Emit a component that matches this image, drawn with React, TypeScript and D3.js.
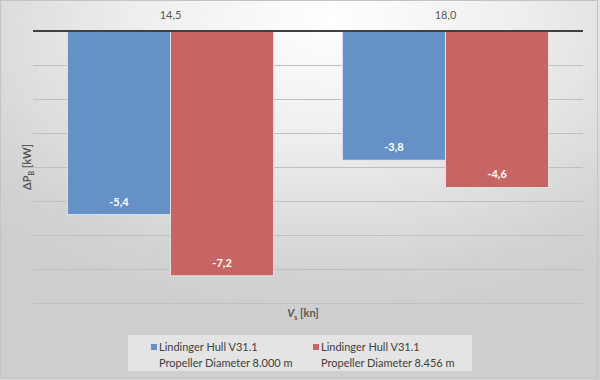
import React from "react";
import * as d3 from "d3";

const categories = ["14,5", "18,0"];
const seriesNames = [
  ["Lindinger Hull V31.1", "Propeller Diameter 8.000 m"],
  ["Lindinger Hull V31.1", "Propeller Diameter 8.456 m"],
];
const seriesA = [-5.4, -3.8];
const seriesB = [-7.2, -4.6];
const yTicks = [0, -1, -2, -3, -4, -5, -6, -7, -8];
const colors = ["#6591c7", "#c76564"];

const W = 600;
const H = 380;
const plot = { left: 33, right: 583, top: 31, bottom: 303 };
const FONT = "Lato, 'Open Sans', 'Liberation Sans', sans-serif";

export default function App() {
  const x0 = d3.scaleBand<string>().domain(categories).range([plot.left, plot.right]).paddingInner(0).paddingOuter(0);
  const y = d3.scaleLinear().domain([0, -8]).range([plot.top, plot.bottom]);
  const bw = x0.bandwidth();
  const groupW = bw * 0.75;
  const barW = groupW / 2;
  const series = [seriesA, seriesB];
  const fmt = (v: number) => d3.format(".1f")(v).replace("−", "-").replace(".", ",");

  return (
    <div style={{ position: "absolute", left: 0, top: 0 }}>
      <svg width={W} height={H} style={{ display: "block" }} fontFamily={FONT}>
        <defs>
          <radialGradient id="bg" cx="0.55" cy="0.05" r="0.8" fx="0.55" fy="0.05">
            <stop offset="0" stopColor="#ffffff" />
            <stop offset="0.4" stopColor="#eeeeee" />
            <stop offset="0.85" stopColor="#d2d2d2" />
            <stop offset="1" stopColor="#cecece" />
          </radialGradient>
        </defs>
        <rect x={0} y={0} width={W} height={H} fill="url(#bg)" />
        <rect x={0.5} y={0.5} width={W - 3} height={H - 3} fill="none" stroke="#c4c4c4" />
        {yTicks.slice(1).map((t) => (
          <line key={t} x1={plot.left} x2={plot.right} y1={Math.round(y(t)) + 0.5} y2={Math.round(y(t)) + 0.5} stroke="#c0c0c0" strokeWidth={1} />
        ))}
        {categories.map((c, i) => {
          const gx = (x0(c) as number) + (bw - groupW) / 2;
          return (
            <g key={c}>
              {series.map((s, j) => {
                const v = s[i];
                const bx = gx + j * barW;
                return (
                  <g key={j}>
                    <rect x={bx} y={y(0)} width={barW} height={y(v) - y(0)} fill={colors[j]} stroke="#e8eef6" strokeWidth={0.8} />
                    <text x={bx + barW / 2} y={y(v) - 9} textAnchor="middle" fill="#ffffff" fontSize={11} fontWeight="bold">
                      {fmt(v)}
                    </text>
                  </g>
                );
              })}
              <text x={(x0(c) as number) + bw / 2} y={19} textAnchor="middle" fill="#595959" fontSize={11}>
                {c}
              </text>
            </g>
          );
        })}
        <line x1={plot.left} x2={plot.right} y1={y(0)} y2={y(0)} stroke="#404040" strokeWidth={2} />
        <text transform={`translate(31,${(plot.top + plot.bottom) / 2}) rotate(-90)`} textAnchor="middle" fill="#595959" fontSize={11} fontWeight="bold">
          ΔP<tspan fontSize={7} dy={3}>B</tspan>
          <tspan dy={-3}> [kW]</tspan>
        </text>
        <text x={303} y={317} textAnchor="middle" fill="#595959" fontSize={11} fontWeight="bold">
          <tspan fontStyle="italic">V</tspan>
          <tspan fontSize={7} dy={3}>s</tspan>
          <tspan dy={-3}> [kn]</tspan>
        </text>
        <rect x={128} y={335} width={344} height={36} fill="#e4e4e4" />
        {seriesNames.map((lines, j) => {
          const lx = j === 0 ? 151 : 313;
          return (
            <g key={j}>
              <rect x={lx} y={344} width={6} height={6} fill={colors[j]} />
              <text x={lx + 8} y={351} fill="#404040" fontSize={11}>{lines[0]}</text>
              <text x={lx + 8} y={367} fill="#404040" fontSize={11}>{lines[1]}</text>
            </g>
          );
        })}
      </svg>
    </div>
  );
}
